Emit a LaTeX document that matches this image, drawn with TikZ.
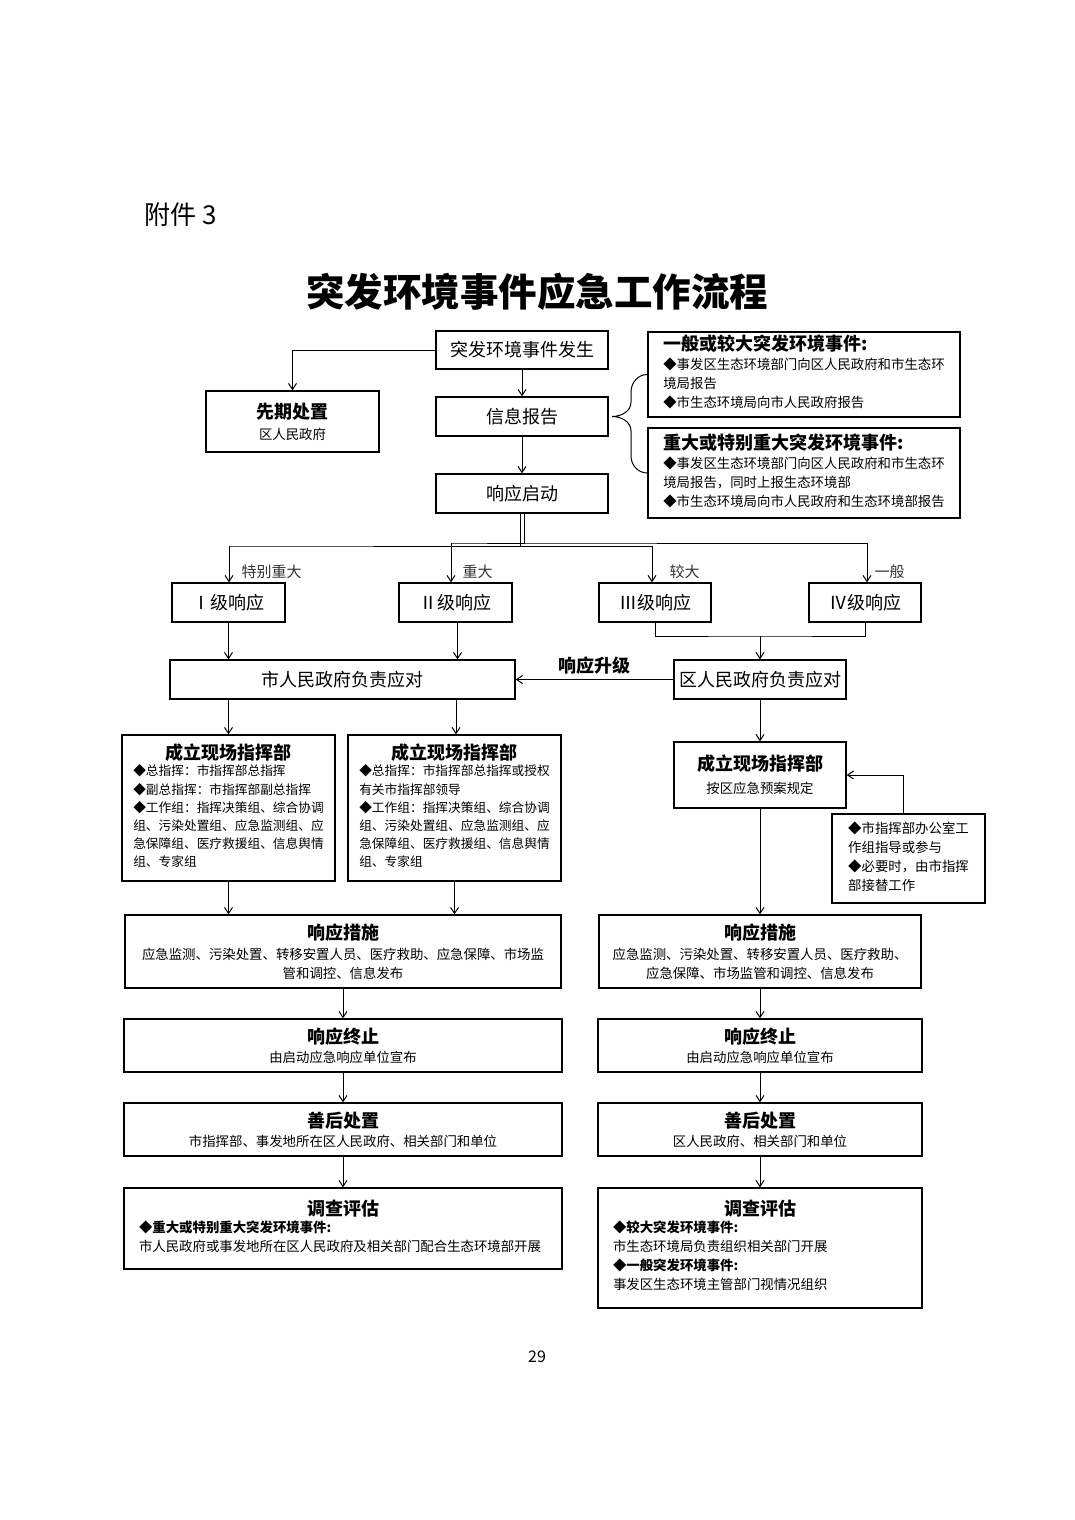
\documentclass[tikz,border=0pt]{standalone}
\usepackage{fontspec}
\setmainfont{Noto Sans CJK SC}
\usetikzlibrary{arrows.meta}
\newcommand{\boxhead}{\fontsize{18}{22}\selectfont\bfseries}
\newcommand{\boxtext}{\fontsize{13.4}{19}\selectfont}
\tikzset{
  box/.style={draw, line width=1.4pt, align=center, inner sep=0pt, font=\boxtext},
  arr/.style={-{Straight Barb[length=6pt,width=8pt]}, line width=1pt},
  link/.style={line width=1pt},
  grade/.style={text=black!80, font=\fontsize{15}{18}\selectfont, anchor=west},
}
\begin{document}
\begin{tikzpicture}[x=1pt, y=-1pt]
\useasboundingbox (0,0) rectangle (1074,1520);
\fill[white] (0,0) rectangle (1074,1520);

\node[anchor=west, font=\fontsize{26}{30}\selectfont] (fujian) at (141,215) {附件 3};
\node[font=\fontsize{38.5}{44}\selectfont\bfseries] (title) at (537,292) {突发环境事件应急工作流程};

% start and report
\node[box, minimum width=172, minimum height=38, font=\fontsize{18}{22}\selectfont] (fasheng) at (522,350) {突发环境事件发生};
\node[box, minimum width=173, minimum height=61] (xianqi) at (292.5,421.5) {{\boxhead 先期处置}\\[2pt] 区人民政府};
\node[box, minimum width=172, minimum height=39, font=\fontsize{18}{22}\selectfont] (xinxi) at (522,416.5) {信息报告};
\node[box, minimum width=172, minimum height=39, font=\fontsize{18}{22}\selectfont] (qidong) at (522,493.5) {响应启动};
\node[box, minimum width=312, minimum height=85] (yiban) at (804,374.5) {\begin{tabular}{@{}l@{}}
  {\boxhead 一般或较大突发环境事件:}\\
  ◆事发区生态环境部门向区人民政府和市生态环\\
  境局报告\\
  ◆市生态环境局向市人民政府报告
\end{tabular}};
\node[box, minimum width=312, minimum height=90] (zhongda) at (804,473) {\begin{tabular}{@{}l@{}}
  {\boxhead 重大或特别重大突发环境事件:}\\
  ◆事发区生态环境部门向区人民政府和市生态环\\
  境局报告，同时上报生态环境部\\
  ◆市生态环境局向市人民政府和生态环境部报告
\end{tabular}};

\draw[arr] (fasheng.west) -| (xianqi.north);
\draw[arr] (fasheng) -- (xinxi);
\draw[arr] (xinxi) -- (qidong);
\coordinate (tip) at (612,416.5);
\draw[link] (yiban.west) to[out=180,in=90] (631,392) -- (631,402)
  to[out=-90,in=0] (tip) to[out=0,in=90] (631,431) -- (631,456)
  to[out=-90,in=180] (zhongda.west);

% response levels
\node[box, minimum width=113, minimum height=39, font=\fontsize{18}{22}\selectfont] (lv1) at (228.5,602.5) {Ⅰ级响应};
\node[box, minimum width=113, minimum height=39, font=\fontsize{18}{22}\selectfont] (lv2) at (455.5,602.5) {Ⅱ级响应};
\node[box, minimum width=112, minimum height=39, font=\fontsize{18}{22}\selectfont] (lv3) at (655,602.5) {Ⅲ级响应};
\node[box, minimum width=112, minimum height=39, font=\fontsize{18}{22}\selectfont] (lv4) at (865,602.5) {Ⅳ级响应};
\node[grade] (g1) at (238,572) {特别重大};
\node[grade] (g2) at (459,572) {重大};
\node[grade] (g3) at (666,572) {较大};
\node[grade] (g4) at (871,572) {一般};

\coordinate (b1) at (229,546);
\coordinate (b2) at (652,546);
\coordinate (b3) at (451,543);
\coordinate (b4) at (867,543);
\draw[link] ([xshift=-2pt]qidong.south) |- (b1) -- (b2);
\draw[link] ([xshift=2pt]qidong.south) |- (b3) -- (b4);
\draw[arr] (b1) -- (b1 |- lv1.north);
\draw[arr] (b3) -- (b3 |- lv2.north);
\draw[arr] (b2) -- (b2 |- lv3.north);
\draw[arr] (b4) -- (b4 |- lv4.north);

% city and district
\node[box, minimum width=345, minimum height=39, font=\fontsize{18}{22}\selectfont] (shi) at (342.5,679.5) {市人民政府负责应对};
\node[box, minimum width=172, minimum height=39, font=\fontsize{18}{22}\selectfont] (qu) at (760,679.5) {区人民政府负责应对};
\coordinate (j34) at (760,636);
\draw[arr] (lv1) -- (lv1 |- shi.north);
\draw[arr] ([xshift=2pt]lv2.south) -- ([xshift=2pt]lv2.south |- shi.north);
\draw[link] (lv3.south) |- (j34) -| (lv4.south);
\draw[arr] (j34) -- (qu);
\draw[arr] (qu) -- node[above=1pt, font=\boxhead] {响应升级} (shi);

% command posts
\node[box, minimum width=213, minimum height=146] (cl1) at (228.5,808) {{\boxhead 成立现场指挥部}\\[1pt]
  {\fontsize{12.7}{18.2}\selectfont\begin{tabular}{@{}l@{}}
  ◆总指挥：市指挥部总指挥\\
  ◆副总指挥：市指挥部副总指挥\\
  ◆工作组：指挥决策组、综合协调\\
  组、污染处置组、应急监测组、应\\
  急保障组、医疗救援组、信息舆情\\
  组、专家组
  \end{tabular}}};
\node[box, minimum width=213, minimum height=146] (cl2) at (454.5,808) {{\boxhead 成立现场指挥部}\\[1pt]
  {\fontsize{12.7}{18.2}\selectfont\begin{tabular}{@{}l@{}}
  ◆总指挥：市指挥部总指挥或授权\\
  有关市指挥部领导\\
  ◆工作组：指挥决策组、综合协调\\
  组、污染处置组、应急监测组、应\\
  急保障组、医疗救援组、信息舆情\\
  组、专家组
  \end{tabular}}};
\node[box, minimum width=172, minimum height=66] (cl3) at (760,775) {{\boxhead 成立现场指挥部}\\[4pt] 按区应急预案规定};
\node[box, minimum width=153, minimum height=89] (side) at (908.5,858.5) {\begin{tabular}{@{}l@{}}
  ◆市指挥部办公室工\\
  作组指导或参与\\
  ◆必要时，由市指挥\\
  部接替工作
\end{tabular}};
\draw[arr] (cl1.north |- shi.south) -- (cl1.north);
\draw[arr] ([xshift=1.5pt]cl2.north |- shi.south) -- ([xshift=1.5pt]cl2.north);
\draw[arr] (qu) -- (cl3);
\draw[arr] ([xshift=-5pt]side.north) |- (cl3.east);

% measures
\node[box, minimum width=436, minimum height=73] (cs1) at (343,951.5) {{\boxhead 响应措施}\\[1pt]
  应急监测、污染处置、转移安置人员、医疗救助、应急保障、市场监\\
  管和调控、信息发布};
\node[box, minimum width=322, minimum height=73] (cs2) at (760,951.5) {{\boxhead 响应措施}\\[1pt]
  应急监测、污染处置、转移安置人员、医疗救助、\\
  应急保障、市场监管和调控、信息发布};
\draw[arr] (cl1) -- (cl1 |- cs1.north);
\draw[arr] (cl2) -- (cl2 |- cs1.north);
\draw[arr] (cl3) -- (cs2);

% termination
\node[box, minimum width=438, minimum height=53] (zz1) at (343,1045.5) {{\boxhead 响应终止}\\ 由启动应急响应单位宣布};
\node[box, minimum width=324, minimum height=53] (zz2) at (760,1045.5) {{\boxhead 响应终止}\\ 由启动应急响应单位宣布};
\draw[arr] (cs1) -- (zz1);
\draw[arr] (cs2) -- (zz2);

% aftermath
\node[box, minimum width=438, minimum height=53] (sh1) at (343,1129.5) {{\boxhead 善后处置}\\ 市指挥部、事发地所在区人民政府、相关部门和单位};
\node[box, minimum width=324, minimum height=53] (sh2) at (760,1129.5) {{\boxhead 善后处置}\\ 区人民政府、相关部门和单位};
\draw[arr] (zz1) -- (sh1);
\draw[arr] (zz2) -- (sh2);

% assessment
\node[box, minimum width=438, minimum height=81] (dc1) at (343,1228.5) {{\boxhead 调查评估}\\[1pt]
  \begin{tabular}{@{}p{408pt}@{}}
  {\bfseries ◆重大或特别重大突发环境事件:}\\
  市人民政府或事发地所在区人民政府及相关部门配合生态环境部开展
  \end{tabular}};
\node[box, minimum width=324, minimum height=120] (dc2) at (760,1248) {{\boxhead 调查评估}\\[1pt]
  \begin{tabular}{@{}p{294pt}@{}}
  {\bfseries ◆较大突发环境事件:}\\
  市生态环境局负责组织相关部门开展\\
  {\bfseries ◆一般突发环境事件:}\\
  事发区生态环境主管部门视情况组织
  \end{tabular}};
\draw[arr] (sh1) -- (dc1);
\draw[arr] (sh2) -- (dc2);

\node[font=\fontsize{16}{19}\selectfont] (page) at (537,1357) {29};
\end{tikzpicture}
\end{document}
